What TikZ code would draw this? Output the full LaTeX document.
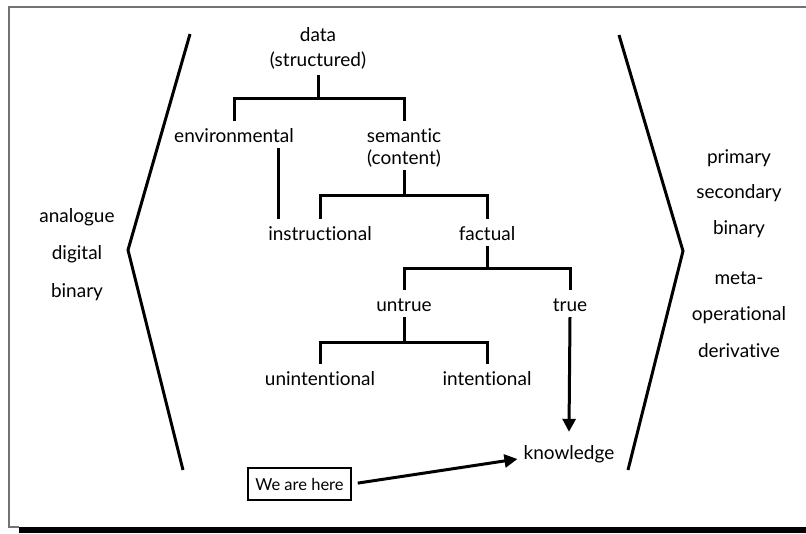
\documentclass[tikz,border=0pt]{standalone}
\usepackage{fontspec}
\setmainfont{Lato}[Ligatures={NoCommon}]
\usetikzlibrary{arrows.meta}
\newcommand\tstrut{\rule{0pt}{21pt}}
\newcommand\bstrut{\rule[-6pt]{0pt}{6pt}}
\begin{document}
\begin{tikzpicture}[x=1pt,y=-1pt,
  every node/.style={font=\fontsize{19}{22}\selectfont, inner sep=0pt},
  lbl/.style={text height=21pt, text depth=6pt, anchor=base},
  side/.style={anchor=base},
  multi/.style={align=center},
  tree/.style={line width=3pt, line cap=butt},
  brk/.style={line width=3pt, line join=miter},
  arr/.style={line width=3pt, -{Triangle[length=13pt,width=13pt]}},
  box/.style={draw, line width=1.6pt, minimum width=103pt, minimum height=32pt, text height=12pt, text depth=0pt, font=\fontsize{16.5}{20}\selectfont}
]
\useasboundingbox (0,0) rectangle (806,533);
\fill[white] (0,0) rectangle (806,533);
\draw[line width=1.6pt, color=black!55] (19,527) -- (9,527) -- (9,7) -- (806,7);
\fill[black] (19,527) rectangle (806,533);

% brackets
\draw[brk] (190,34) -- (128,250) -- (183,470);
\draw[brk] (619,35) -- (683,251) -- (628,470);

% left column
\node[side] (lana) at (77,222) {analogue};
\node[side] (ldig) at (77,259) {digital};
\node[side] (lbin) at (77,297) {binary};

% right column
\node[side] (rpri) at (739,163) {primary};
\node[side] (rsec) at (739,198) {secondary};
\node[side] (rbin) at (739,234) {binary};
\node[side] (rmet) at (739,284) {meta-};
\node[side] (rope) at (739,320) {operational};
\node[side] (rder) at (739,357) {derivative};

% tree nodes
\node[multi, anchor=south] (data) at (318,75) {data\\[3pt](structured)\rule[-8pt]{0pt}{8pt}};
\node[lbl] (env) at (234,142) {environmental};
\node[multi, anchor=north] (sem) at (404,121) {\tstrut semantic\\(content)\bstrut};
\node[lbl] (instr) at (320,240) {instructional};
\node[lbl] (fact) at (487,240) {factual};
\node[lbl] (untrue) at (404,311) {untrue};
\node[lbl] (true) at (570,311) {true};
\node[lbl] (unint) at (320,385) {unintentional};
\node[lbl] (int) at (487,385) {intentional};
\node[lbl, text height=27pt] (know) at (569,459) {knowledge};
\node[box] (here) at (299.5,484) {We are here};

% connectors
\draw[tree] (data.south) -- ++(0,23) coordinate (j1);
\draw[tree] (env.north) |- (j1) -| (sem.north);
\draw[tree] ([xshift=44pt]env.south) -- ([xshift=44pt]env.south |- instr.north);
\draw[tree] (sem.south) -- ++(0,25) coordinate (j2);
\draw[tree] (instr.north) |- (j2) -| (fact.north);
\draw[tree] (fact.south) -- ++(0,22) coordinate (j3);
\draw[tree] (untrue.north) |- (j3) -| (true.north);
\draw[tree] (untrue.south) -- ++(0,25) coordinate (j4);
\draw[tree] (unint.north) |- (j4) -| (int.north);
\draw[arr] (true.south) -- (know.north);
\draw[arr, shorten <=6pt] (here.east) -- ([xshift=-6pt]know.base west);
\end{tikzpicture}
\end{document}
